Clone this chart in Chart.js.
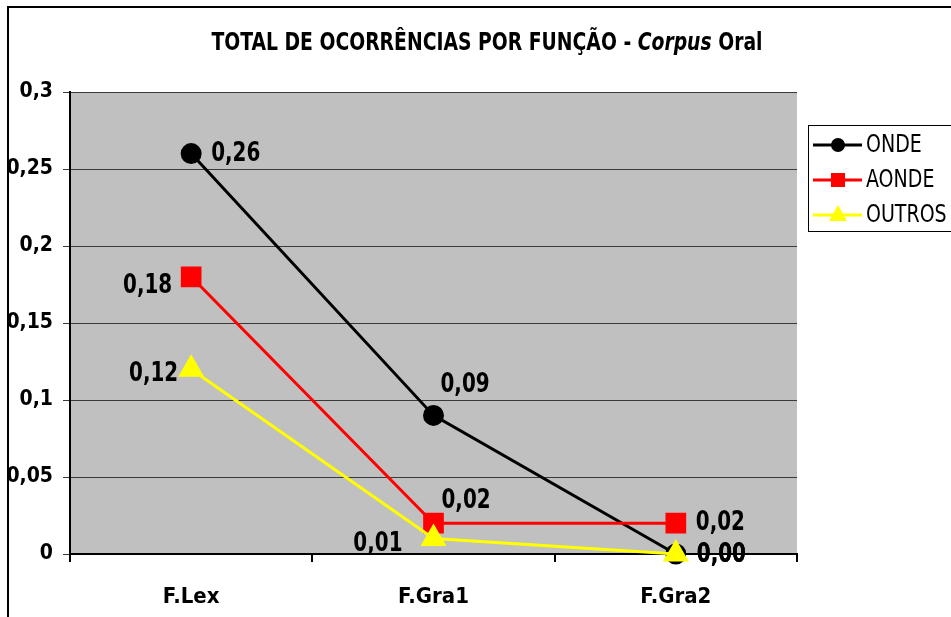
<!DOCTYPE html>
<html>
<head>
<meta charset="utf-8">
<script src="https://cdn.jsdelivr.net/npm/chart.js@4/dist/chart.umd.min.js"></script>
<style>
  html, body { margin: 0; padding: 0; background: #fff; }
  #wrap { width: 951px; height: 617px; position: relative; }
</style>
</head>
<body>
<div id="wrap"><canvas id="chart" width="951" height="617"></canvas></div>
<script>
const categories = ['F.Lex', 'F.Gra1', 'F.Gra2'];
const seriesNames = ['ONDE', 'AONDE', 'OUTROS'];
const onde = [0.26, 0.09, 0.00];
const aonde = [0.18, 0.02, 0.02];
const outros = [0.12, 0.01, 0.00];

const FONT = '"Liberation Sans Narrow", "Arial Narrow", "DejaVu Sans Condensed", sans-serif';

// where each value label sits relative to its point: [dx, dy, align]
const labelPlace = [
    [[20, 0, 'left'], [7, -30, 'left'], [21, 1, 'left']],
    [[-19, 9, 'right'], [8, -22, 'left'], [20, 0, 'left']],
    [[-13, 5, 'right'], [-31, 5, 'right'], [21, 1, 'left']]
];

const tickFmt = v => String(+v.toFixed(2)).replace('.', ',');
const valFmt = v => v.toFixed(2).replace('.', ',');

// draw text squeezed horizontally, a bit like the narrow font of the original
function narrowText(ctx, text, x, y, align, sx) {
    ctx.save();
    ctx.translate(x, y);
    ctx.scale(sx, 1);
    ctx.textAlign = align;
    ctx.fillText(text, 0, 0);
    ctx.restore();
}

const bgPlugin = {
    id: 'bg',
    beforeDraw(chart) {
        const {ctx, chartArea: a} = chart;
        ctx.save();
        ctx.fillStyle = '#c0c0c0';
        ctx.fillRect(a.left, a.top, a.right - a.left, a.bottom - a.top);
        ctx.strokeStyle = '#000';
        ctx.lineWidth = 2;
        ctx.beginPath();
        ctx.moveTo(8, 640);
        ctx.lineTo(8, 7);
        ctx.lineTo(960, 7);
        ctx.stroke();
        ctx.restore();
    }
};

const titlePlugin = {
    id: 'mixedTitle',
    afterDraw(chart) {
        const ctx = chart.ctx;
        const sx = 0.87;
        const parts = [
            ['TOTAL DE OCORRÊNCIAS POR FUNÇÃO - ', 'bold'],
            ['Corpus', 'italic bold'],
            [' Oral', 'bold']
        ];
        ctx.save();
        ctx.fillStyle = '#000';
        ctx.textBaseline = 'middle';
        let total = 0;
        parts.forEach(p => {
            ctx.font = p[1] + ' 24px ' + FONT;
            total += ctx.measureText(p[0]).width * sx;
        });
        let x = 487 - total / 2;
        parts.forEach(p => {
            ctx.font = p[1] + ' 24px ' + FONT;
            narrowText(ctx, p[0], x, 44, 'left', sx);
            x += ctx.measureText(p[0]).width * sx;
        });
        ctx.restore();
    }
};

const labelPlugin = {
    id: 'valueLabels',
    afterDatasetsDraw(chart) {
        const ctx = chart.ctx;
        ctx.save();
        ctx.fillStyle = '#000';
        ctx.font = 'bold 27px ' + FONT;
        ctx.textBaseline = 'middle';
        chart.data.datasets.forEach((ds, i) => {
            chart.getDatasetMeta(i).data.forEach((pt, j) => {
                const [dx, dy, align] = labelPlace[i][j];
                narrowText(ctx, valFmt(ds.data[j]), pt.x + dx, pt.y + dy, align, 0.82);
            });
        });
        ctx.restore();
    }
};

const legendPlugin = {
    id: 'boxLegend',
    afterDraw(chart) {
        const ctx = chart.ctx;
        ctx.save();
        ctx.strokeStyle = '#000';
        ctx.lineWidth = 1;
        ctx.strokeRect(808.5, 125.5, 200, 106);
        ctx.font = '24px ' + FONT;
        ctx.textBaseline = 'middle';
        chart.data.datasets.forEach((ds, i) => {
            const y = 145 + i * 35;
            ctx.strokeStyle = ds.borderColor;
            ctx.lineWidth = 3;
            ctx.beginPath();
            ctx.moveTo(813, y);
            ctx.lineTo(862, y);
            ctx.stroke();
            ctx.fillStyle = ds.pointBackgroundColor;
            const cx = 838;
            if (ds.pointStyle === 'circle') {
                ctx.beginPath();
                ctx.arc(cx, y, 7, 0, Math.PI * 2);
                ctx.fill();
            } else if (ds.pointStyle === 'rect') {
                ctx.fillRect(cx - 7, y - 7, 14, 14);
            } else {
                ctx.beginPath();
                ctx.moveTo(cx, y - 10);
                ctx.lineTo(cx + 9, y + 6);
                ctx.lineTo(cx - 9, y + 6);
                ctx.closePath();
                ctx.fill();
            }
            ctx.fillStyle = '#000';
            narrowText(ctx, seriesNames[i], 866, y + 1, 'left', 0.88);
        });
        ctx.restore();
    }
};

const mk = (label, data, color, style, radius, order) => ({
    label,
    data,
    order,
    clip: false,
    borderColor: color,
    backgroundColor: color,
    pointBackgroundColor: color,
    pointBorderColor: color,
    pointStyle: style,
    pointRadius: radius,
    pointHoverRadius: radius,
    borderWidth: 3,
    tension: 0,
    fill: false
});

new Chart(document.getElementById('chart'), {
    type: 'line',
    data: {
        labels: categories,
        datasets: [
            mk(seriesNames[0], onde, '#000000', 'circle', 9, 2),
            mk(seriesNames[1], aonde, '#ff0000', 'rect', 12.5, 1),
            mk(seriesNames[2], outros, '#ffff00', 'triangle', 12, 0)
        ]
    },
    options: {
        responsive: false,
        animation: false,
        layout: { padding: { top: 92, right: 154, left: 0, bottom: 0 } },
        plugins: {
            legend: { display: false },
            tooltip: { enabled: false },
            title: { display: false }
        },
        scales: {
            x: {
                offset: true,
                afterFit: s => { s.height = 63; },
                grid: { drawOnChartArea: false, offset: true, color: '#000', tickLength: 8, lineWidth: 2 },
                border: { color: '#000', width: 2 },
                ticks: { color: '#000', padding: 22, font: { family: FONT, size: 22, weight: 'bold' } }
            },
            y: {
                min: 0,
                max: 0.3,
                afterFit: s => { s.width = 70; },
                grid: { color: '#3a3a3a', tickLength: 7, lineWidth: 1 },
                border: { color: '#000', width: 2 },
                ticks: {
                    stepSize: 0.05,
                    color: '#000',
                    padding: 10,
                    font: { family: FONT, size: 21, weight: 'bold' },
                    callback: v => tickFmt(v)
                }
            }
        }
    },
    plugins: [bgPlugin, titlePlugin, labelPlugin, legendPlugin]
});
</script>
</body>
</html>
